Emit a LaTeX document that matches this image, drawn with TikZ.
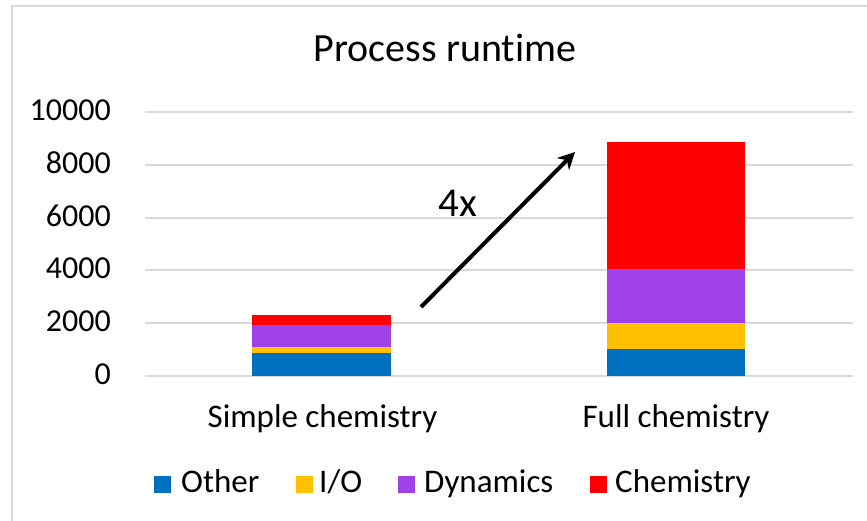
\documentclass[tikz,border=0pt]{standalone}
\usepackage{fontspec}
\setmainfont{Carlito}[Ligatures=NoCommon]
\usetikzlibrary{arrows.meta}
\definecolor{cOther}{HTML}{0070C0}
\definecolor{cIO}{HTML}{FFC000}
\definecolor{cDyn}{HTML}{A040E8}
\definecolor{cChem}{HTML}{FF0000}
\definecolor{gridc}{HTML}{D9D9D9}
\begin{document}
\begin{tikzpicture}[x=1pt,y=-1pt,
  gridline/.style={draw=gridc,line width=2pt},
  ticklab/.style={anchor=base east,font=\fontsize{32}{32}\selectfont,inner sep=0pt},
  catlab/.style={anchor=base,font=\fontsize{33}{33}\selectfont,inner sep=0pt},
  leglab/.style={anchor=base west,font=\fontsize{33}{33}\selectfont,inner sep=0pt},
  legbox/.style={minimum size=17pt,inner sep=0pt}]
\useasboundingbox (0,0) rectangle (867,521);
\fill[white] (0,0) rectangle (867,521);
% chart frame
\draw[gridc,line width=2pt] (12,521) -- (12,6) -- (867,6);
% title
\node[anchor=base,font=\fontsize{40}{40}\selectfont,inner sep=0pt] (title) at (445,62) {Process runtime};
% gridlines and tick labels
\foreach \v/\y in {0/376,2000/323.2,4000/270.4,6000/217.6,8000/164.8,10000/112} {
  \draw[gridline] (145,\y) -- (853,\y);
  \node[ticklab] (t\v) at (111,\y+8.5) {\v};
}
% simple chemistry bar
\fill[cOther] (252,376) rectangle (391,353);
\fill[cIO] (252,353) rectangle (391,347);
\fill[cDyn] (252,347) rectangle (391,325);
\fill[cChem] (252,325) rectangle (391,315);
% full chemistry bar
\fill[cOther] (607,376) rectangle (745,349);
\fill[cIO] (607,349) rectangle (745,323);
\fill[cDyn] (607,323) rectangle (745,269);
\fill[cChem] (607,269) rectangle (745,142);
% category labels
\node[catlab] (simple) at (322.5,427) {Simple chemistry};
\node[catlab] (full) at (676,427) {Full chemistry};
% arrow
\coordinate (a0) at (421,307);
\coordinate (a1) at (575,152);
\draw[line width=4pt,-{Stealth[length=17pt,width=17pt]}] (a0) -- (a1);
\node[anchor=base,font=\fontsize{41}{41}\selectfont,inner sep=0pt] (fx) at (457.5,217) {4x};
% legend
\node[legbox,fill=cOther] (l1) at (162,484) {};
\node[leglab] (l1t) at (181,492) {Other};
\node[legbox,fill=cIO] (l2) at (304,484) {};
\node[leglab] (l2t) at (319,492) {I/O};
\node[legbox,fill=cDyn] (l3) at (406,484) {};
\node[leglab] (l3t) at (424,492) {Dynamics};
\node[legbox,fill=cChem] (l4) at (598,484) {};
\node[leglab] (l4t) at (615,492) {Chemistry};
\end{tikzpicture}
\end{document}
